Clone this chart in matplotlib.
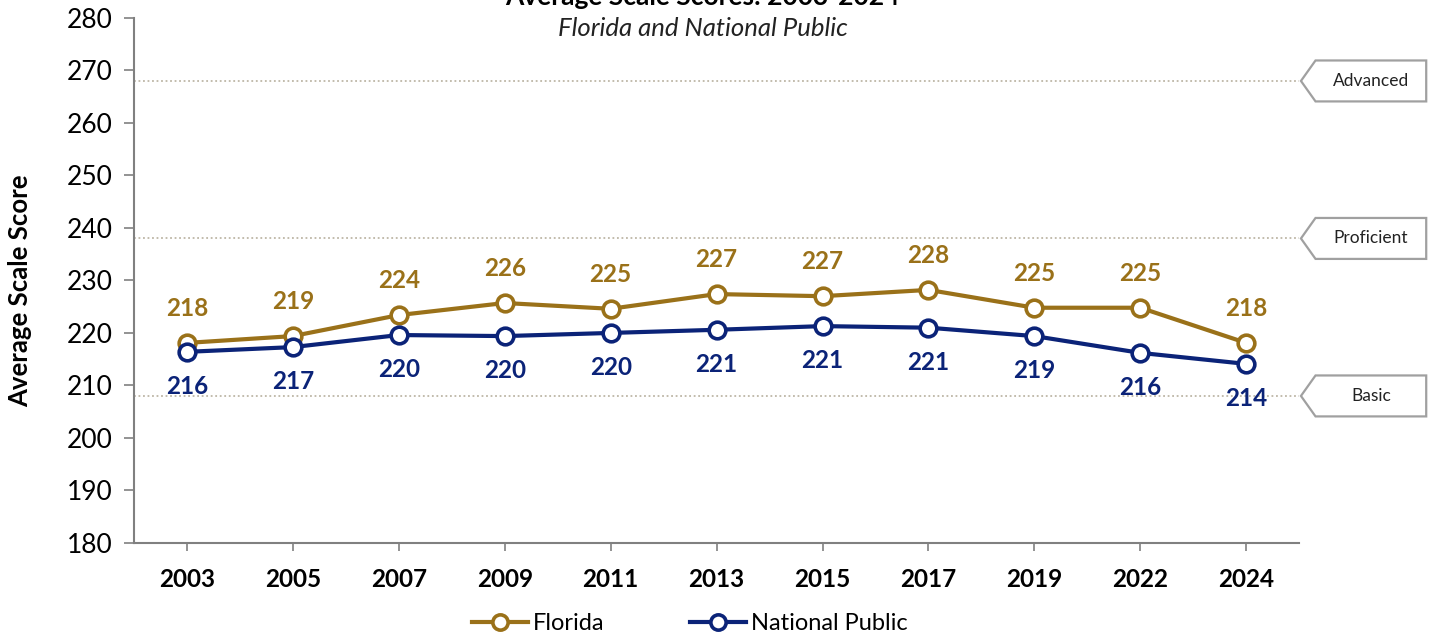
import matplotlib
matplotlib.use("Agg")
import matplotlib.pyplot as plt
from matplotlib.patches import Polygon
from matplotlib.lines import Line2D

plt.rcParams['font.family'] = ['Lato', 'DejaVu Sans']

years = ['2003', '2005', '2007', '2009', '2011', '2013', '2015', '2017', '2019', '2022', '2024']
florida = [218.1, 219.4, 223.4, 225.7, 224.6, 227.4, 227.0, 228.2, 224.8, 224.8, 218.1]
florida_labels = [218, 219, 224, 226, 225, 227, 227, 228, 225, 225, 218]
national = [216.4, 217.3, 219.6, 219.4, 220.0, 220.6, 221.3, 221.0, 219.4, 216.2, 214.1]
national_labels = [216, 217, 220, 220, 220, 221, 221, 221, 219, 216, 214]
levels = ['Advanced', 'Proficient', 'Basic']
level_scores = [268, 238, 208]

gold = '#9A7119'
navy = '#0B2378'
axis_grey = '#808080'

fig = plt.figure(figsize=(14.34, 6.41), dpi=100)
ax = fig.add_axes([0.0934, 0.153, 0.8126, 0.819])

x = list(range(len(years)))

# achievement level reference lines
for score in level_scores:
    ax.axhline(score, color='#BDB6A6', linestyle=(0, (1, 1.5)), linewidth=1.3, zorder=1)

ax.plot(x, florida, color=gold, linewidth=3, marker='o', markersize=12,
        markerfacecolor='white', markeredgecolor=gold, markeredgewidth=2.6,
        zorder=4, label='Florida')
ax.plot(x, national, color=navy, linewidth=3, marker='o', markersize=12,
        markerfacecolor='white', markeredgecolor=navy, markeredgewidth=2.6,
        zorder=4, label='National Public')

for i in x:
    ax.annotate(str(florida_labels[i]), (i, florida[i]), xytext=(0, 25),
                textcoords='offset points', ha='center', va='center',
                fontsize=17.5, fontweight='bold', color=gold)
    ax.annotate(str(national_labels[i]), (i, national[i]), xytext=(0, -25),
                textcoords='offset points', ha='center', va='center',
                fontsize=17.5, fontweight='bold', color=navy)

ax.set_xlim(-0.5, 10.5)
ax.set_ylim(180, 280)
ax.set_yticks(range(180, 281, 10))
ax.set_xticks(x)
ax.set_xticklabels(years, fontweight='bold')
ax.tick_params(axis='y', direction='out', length=7, width=1.2, color=axis_grey,
               labelsize=19, pad=8)
ax.tick_params(axis='x', direction='out', length=6, width=1.2, color=axis_grey,
               labelsize=17.5, pad=12)
for side in ['top', 'right']:
    ax.spines[side].set_visible(False)
for side in ['left', 'bottom']:
    ax.spines[side].set_color(axis_grey)
    ax.spines[side].set_linewidth(1.5)

ax.set_ylabel('Average Scale Score', fontsize=18.5, fontweight='bold')
ax.yaxis.set_label_coords(-0.087, 0.48)

# arrow-shaped callouts on the right
trans = ax.get_yaxis_transform()
for name, score in zip(levels, level_scores):
    tip = 1.0015
    body = 1.014
    right = 1.109
    h = 3.9
    poly = Polygon([(tip, score), (body, score + h), (right, score + h),
                    (right, score - h), (body, score - h)], closed=True,
                   transform=trans, facecolor='white', edgecolor='#A0A0A0',
                   linewidth=1.6, clip_on=False, zorder=5)
    ax.add_patch(poly)
    ax.text((body + right) / 2, score, name, transform=trans, ha='center',
            va='center', fontsize=12.5, color='#222222', clip_on=False, zorder=6)

fig.text(0.49, 1.005, 'Average Scale Scores: 2003-2024', ha='center', va='center',
         fontsize=19, fontweight='bold')
fig.text(0.49, 0.955, 'Florida and National Public', ha='center', va='center',
         fontsize=18.5, style='italic', color='#222222')

handles = [Line2D([], [], color=gold, linewidth=3, marker='o', markersize=11,
                  markerfacecolor='white', markeredgecolor=gold, markeredgewidth=2.6),
           Line2D([], [], color=navy, linewidth=3, marker='o', markersize=11,
                  markerfacecolor='white', markeredgecolor=navy, markeredgewidth=2.6)]
fig.legend(handles, ['Florida', 'National Public'], loc='center',
           bbox_to_anchor=(0.481, 0.027), ncol=2, frameon=False, fontsize=17,
           handlelength=2.4, handletextpad=0.2, columnspacing=3.6)

fig.savefig('out.png', dpi=100)
